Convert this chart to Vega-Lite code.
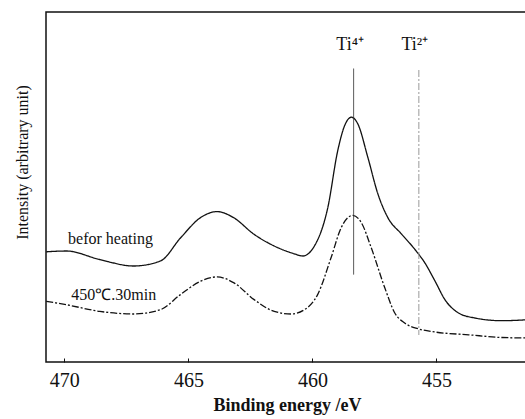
{
  "$schema": "https://vega.github.io/schema/vega-lite/v6.json",
  "width": 482,
  "height": 350,
  "autosize": {"type": "none"},
  "padding": {"left": 46, "top": 12, "right": 0, "bottom": 57},
  "background": "white",
  "config": {
    "font": "Liberation Serif",
    "view": {"stroke": "#111", "strokeWidth": 1.5}
  },
  "datasets": {
    "curves": [
      {"series": "befor heating", "eV": 470.73, "I": 110.2},
      {"series": "befor heating", "eV": 469.92, "I": 111},
      {"series": "befor heating", "eV": 468.58, "I": 102.5},
      {"series": "befor heating", "eV": 467.21, "I": 96},
      {"series": "befor heating", "eV": 466.13, "I": 101},
      {"series": "befor heating", "eV": 465.31, "I": 124.3},
      {"series": "befor heating", "eV": 464.51, "I": 144.4},
      {"series": "befor heating", "eV": 463.84, "I": 150.4},
      {"series": "befor heating", "eV": 463.18, "I": 144.4},
      {"series": "befor heating", "eV": 462.37, "I": 128},
      {"series": "befor heating", "eV": 461.54, "I": 116},
      {"series": "befor heating", "eV": 460.73, "I": 108.2},
      {"series": "befor heating", "eV": 460.39, "I": 106},
      {"series": "befor heating", "eV": 459.92, "I": 116},
      {"series": "befor heating", "eV": 459.38, "I": 154.4},
      {"series": "befor heating", "eV": 458.98, "I": 211.3},
      {"series": "befor heating", "eV": 458.70, "I": 236.5},
      {"series": "befor heating", "eV": 458.43, "I": 244.8},
      {"series": "befor heating", "eV": 458.17, "I": 238.1},
      {"series": "befor heating", "eV": 457.77, "I": 205},
      {"series": "befor heating", "eV": 457.36, "I": 168},
      {"series": "befor heating", "eV": 456.96, "I": 144.4},
      {"series": "befor heating", "eV": 456.41, "I": 128},
      {"series": "befor heating", "eV": 455.87, "I": 112.6},
      {"series": "befor heating", "eV": 455.47, "I": 99.2},
      {"series": "befor heating", "eV": 455.06, "I": 81},
      {"series": "befor heating", "eV": 454.66, "I": 62.4},
      {"series": "befor heating", "eV": 454.11, "I": 49},
      {"series": "befor heating", "eV": 453.45, "I": 44},
      {"series": "befor heating", "eV": 452.36, "I": 41.3},
      {"series": "befor heating", "eV": 451.31, "I": 42.3},
      {"series": "450C", "eV": 470.73, "I": 60.7},
      {"series": "450C", "eV": 469.92, "I": 57.3},
      {"series": "450C", "eV": 468.57, "I": 50.6},
      {"series": "450C", "eV": 467.21, "I": 48},
      {"series": "450C", "eV": 466.13, "I": 52.3},
      {"series": "450C", "eV": 465.32, "I": 67.4},
      {"series": "450C", "eV": 464.51, "I": 80.8},
      {"series": "450C", "eV": 463.84, "I": 85.1},
      {"series": "450C", "eV": 463.16, "I": 79.1},
      {"series": "450C", "eV": 462.35, "I": 62.4},
      {"series": "450C", "eV": 461.54, "I": 50.6},
      {"series": "450C", "eV": 460.86, "I": 48},
      {"series": "450C", "eV": 460.32, "I": 52.3},
      {"series": "450C", "eV": 459.79, "I": 67.4},
      {"series": "450C", "eV": 459.25, "I": 104.2},
      {"series": "450C", "eV": 458.84, "I": 134.4},
      {"series": "450C", "eV": 458.37, "I": 146.7},
      {"series": "450C", "eV": 458.03, "I": 139.4},
      {"series": "450C", "eV": 457.63, "I": 114.3},
      {"series": "450C", "eV": 457.08, "I": 74},
      {"series": "450C", "eV": 456.68, "I": 49},
      {"series": "450C", "eV": 456.28, "I": 39},
      {"series": "450C", "eV": 455.73, "I": 33.2},
      {"series": "450C", "eV": 455.06, "I": 30},
      {"series": "450C", "eV": 453.70, "I": 27.2},
      {"series": "450C", "eV": 452.36, "I": 24.5},
      {"series": "450C", "eV": 451.31, "I": 24}
    ],
    "rules": [
      {"ion": "Ti4+", "eV": 458.34, "y1": 293.4, "y2": 87.5},
      {"ion": "Ti2+", "eV": 455.71, "y1": 292, "y2": 27}
    ],
    "ionLabels": [
      {"label": "Ti⁴⁺", "eV": 458.48, "I": 317},
      {"label": "Ti²⁺", "eV": 455.87, "I": 317}
    ],
    "curveLabels": [
      {"label": "befor heating", "eV": 469.85, "I": 123},
      {"label": "450℃.30min", "eV": 469.72, "I": 67}
    ]
  },
  "layer": [
    {
      "data": {"name": "curves"},
      "mark": {"type": "line", "interpolate": "monotone", "strokeWidth": 1.3, "color": "#111"},
      "encoding": {
        "x": {
          "field": "eV", "type": "quantitative",
          "scale": {"domain": [470.74, 451.31], "nice": false, "zero": false},
          "axis": {
            "title": "Binding energy /eV",
            "values": [470, 465, 460, 455],
            "grid": false, "domain": false,
            "tickSize": -4, "tickColor": "#111", "tickWidth": 1,
            "labelFont": "Liberation Serif", "labelFontSize": 20, "labelColor": "#111",
            "labelPadding": 12,
            "titleFont": "Liberation Serif", "titleFontSize": 18, "titleFontWeight": "bold",
            "titleColor": "#111", "titlePadding": 6
          }
        },
        "y": {
          "field": "I", "type": "quantitative",
          "scale": {"domain": [0, 350], "nice": false},
          "axis": {
            "title": "Intensity (arbitrary unit)",
            "labels": false, "ticks": false, "domain": false, "grid": false,
            "titleFont": "Liberation Serif", "titleFontSize": 16, "titleFontWeight": "normal",
            "titleColor": "#111", "titleX": -24, "titleY": 150, "titleBaseline": "middle"
          }
        },
        "detail": {"field": "series"},
        "strokeDash": {
          "field": "series", "type": "nominal",
          "scale": {"domain": ["befor heating", "450C"], "range": [[1, 0], [7, 2, 2, 2]]},
          "legend": null
        }
      }
    },
    {
      "data": {"name": "rules"},
      "mark": {"type": "rule", "strokeWidth": 1},
      "encoding": {
        "x": {"field": "eV", "type": "quantitative"},
        "y": {"field": "y1", "type": "quantitative"},
        "y2": {"field": "y2"},
        "color": {
          "field": "ion", "type": "nominal",
          "scale": {"domain": ["Ti4+", "Ti2+"], "range": ["#333", "#999"]},
          "legend": null
        },
        "strokeDash": {
          "field": "ion", "type": "nominal",
          "scale": {"domain": ["Ti4+", "Ti2+"], "range": [[1, 0], [1, 1]]},
          "legend": null
        }
      }
    },
    {
      "data": {"name": "ionLabels"},
      "mark": {"type": "text", "font": "Liberation Serif", "fontSize": 18, "color": "#111", "align": "center", "baseline": "middle"},
      "encoding": {
        "x": {"field": "eV", "type": "quantitative"},
        "y": {"field": "I", "type": "quantitative"},
        "text": {"field": "label"}
      }
    },
    {
      "data": {"name": "curveLabels"},
      "mark": {"type": "text", "font": "Liberation Serif", "fontSize": 16, "color": "#111", "align": "left", "baseline": "middle"},
      "encoding": {
        "x": {"field": "eV", "type": "quantitative"},
        "y": {"field": "I", "type": "quantitative"},
        "text": {"field": "label"}
      }
    }
  ]
}
